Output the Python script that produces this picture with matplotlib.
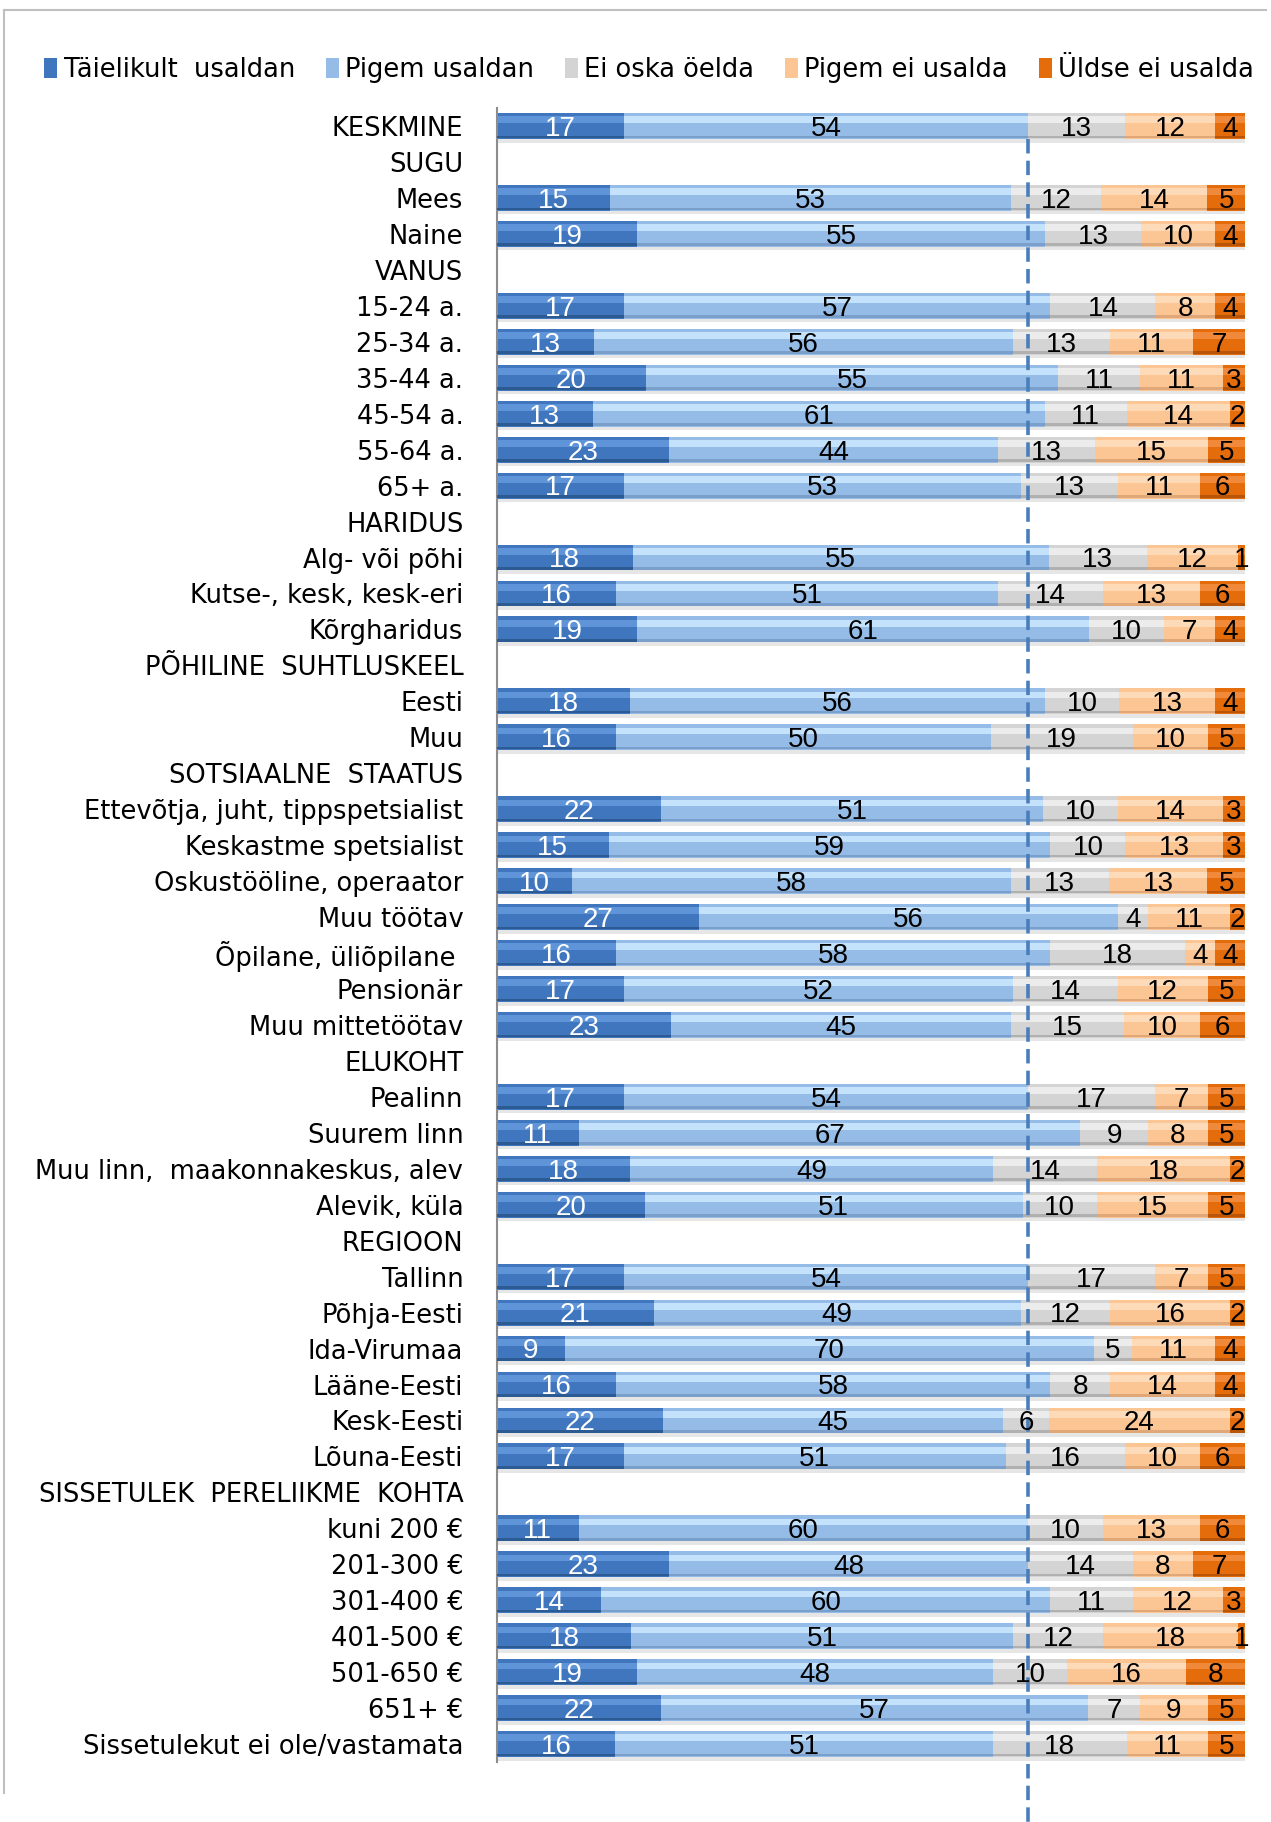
import numpy as np
import matplotlib.pyplot as plt
from matplotlib.patches import Patch
from matplotlib.lines import Line2D

nan = np.nan

categories = [
    "KESKMINE", "SUGU", "Mees", "Naine", "VANUS",
    "15-24 a.", "25-34 a.", "35-44 a.", "45-54 a.", "55-64 a.", "65+ a.",
    "HARIDUS", "Alg- või põhi", "Kutse-, kesk, kesk-eri", "Kõrgharidus",
    "PÕHILINE  SUHTLUSKEEL", "Eesti", "Muu",
    "SOTSIAALNE  STAATUS", "Ettevõtja, juht, tippspetsialist", "Keskastme spetsialist",
    "Oskustööline, operaator", "Muu töötav", "Õpilane, üliõpilane ", "Pensionär",
    "Muu mittetöötav",
    "ELUKOHT", "Pealinn", "Suurem linn", "Muu linn,  maakonnakeskus, alev", "Alevik, küla",
    "REGIOON", "Tallinn", "Põhja-Eesti", "Ida-Virumaa", "Lääne-Eesti", "Kesk-Eesti",
    "Lõuna-Eesti",
    "SISSETULEK  PERELIIKME  KOHTA", "kuni 200 €", "201-300 €", "301-400 €", "401-500 €",
    "501-650 €", "651+ €", "Sissetulekut ei ole/vastamata",
]

series_names = ["Täielikult  usaldan", "Pigem usaldan", "Ei oska öelda",
                "Pigem ei usalda", "Üldse ei usalda"]

taielikult = [17, nan, 15, 19, nan, 17, 13, 20, 13, 23, 17, nan, 18, 16, 19, nan, 18, 16,
              nan, 22, 15, 10, 27, 16, 17, 23, nan, 17, 11, 18, 20, nan, 17, 21, 9, 16, 22, 17,
              nan, 11, 23, 14, 18, 19, 22, 16]
pigem_usaldan = [54, nan, 53, 55, nan, 57, 56, 55, 61, 44, 53, nan, 55, 51, 61, nan, 56, 50,
                 nan, 51, 59, 58, 56, 58, 52, 45, nan, 54, 67, 49, 51, nan, 54, 49, 70, 58, 45, 51,
                 nan, 60, 48, 60, 51, 48, 57, 51]
ei_oska = [13, nan, 12, 13, nan, 14, 13, 11, 11, 13, 13, nan, 13, 14, 10, nan, 10, 19,
           nan, 10, 10, 13, 4, 18, 14, 15, nan, 17, 9, 14, 10, nan, 17, 12, 5, 8, 6, 16,
           nan, 10, 14, 11, 12, 10, 7, 18]
pigem_ei = [12, nan, 14, 10, nan, 8, 11, 11, 14, 15, 11, nan, 12, 13, 7, nan, 13, 10,
            nan, 14, 13, 13, 11, 4, 12, 10, nan, 7, 8, 18, 15, nan, 7, 16, 11, 14, 24, 10,
            nan, 13, 8, 12, 18, 16, 9, 11]
uldse_ei = [4, nan, 5, 4, nan, 4, 7, 3, 2, 5, 6, nan, 1, 6, 4, nan, 4, 5,
            nan, 3, 3, 5, 2, 4, 5, 6, nan, 5, 5, 2, 5, nan, 5, 2, 4, 4, 2, 6,
            nan, 6, 7, 3, 1, 8, 5, 5]

# base, top highlight, bottom shade, label colour
styles = [
    ("#3f76bd", "#5f95d8", "#2c5a93", "white"),
    ("#95bce6", "#c4e2fb", "#7a9fcb", "black"),
    ("#d4d4d4", "#ececec", "#b0b0b0", "black"),
    ("#fbc594", "#fddbb9", "#e0a878", "black"),
    ("#e46c0a", "#f08a3a", "#b85508", "black"),
]

data = np.array([taielikult, pigem_usaldan, ei_oska, pigem_ei, uldse_ei], dtype=float)
totals = data.sum(axis=0)
shares = data / totals * 100

fig = plt.figure(figsize=(12.71, 18.22), dpi=100)
ax = fig.add_axes([0.3908, 0.0329, 0.5888, 0.9078])

y = np.arange(len(categories))
ok = ~np.isnan(totals)
h = 0.72
left = np.zeros(ok.sum())
yy = y[ok]

for i, (base, light, dark, tc) in enumerate(styles):
    w = shares[i][ok]
    ax.barh(yy + 0.1, w, left=left, height=h, color="#c8c8c8", alpha=0.45, zorder=1, lw=0)
    ax.barh(yy, w, left=left, height=h, color=base, zorder=2, lw=0)
    ax.barh(yy - h * 0.24, w, left=left, height=h * 0.26, color=light, zorder=3, lw=0)
    ax.barh(yy + h * 0.42, w, left=left, height=h * 0.1, color=dark, zorder=3, lw=0)
    for yi, l, wi, v in zip(yy, left, w, data[i][ok]):
        ax.text(l + wi / 2, yi + 0.08, f"{int(v)}", ha="center", va="center",
                fontsize=20, color=tc, family=["Liberation Sans", "DejaVu Sans"], zorder=6)
    left = left + w

# reference line at the average trust level
ref = data[0][0] + data[1][0]
ax.plot([ref, ref], [0.37, 47.4], ls=(0, (4, 2)), color="#4a7ebb", lw=2.6,
        clip_on=False, zorder=5)

ax.set_xlim(0, 100)
ax.set_ylim(len(categories) - 0.5, -0.5)
ax.set_yticks(y)
ax.set_yticklabels(categories, fontsize=18.5)
ax.tick_params(axis="y", length=0, pad=24)
ax.set_xticks([])
for s in ["top", "right", "bottom"]:
    ax.spines[s].set_visible(False)
ax.spines["left"].set_color("#8c8c8c")
ax.spines["left"].set_linewidth(1.5)

handles = [Patch(facecolor=s[0], edgecolor="none") for s in styles]
fig.legend(handles, series_names, loc="center left", bbox_to_anchor=(0.035, 0.9616),
           ncol=5, frameon=False, fontsize=18.5, handlelength=0.5, handleheight=0.8,
           handletextpad=0.25, columnspacing=1.2, borderaxespad=0, borderpad=0)

# outer chart-area border (top and left)
fig.add_artist(Line2D([0.0035, 0.996], [0.9945, 0.9945], color="#bfbfbf", lw=1.5))
fig.add_artist(Line2D([0.0035, 0.0035], [0.016, 0.9945], color="#bfbfbf", lw=1.5))

plt.savefig("out.png", dpi=100)
